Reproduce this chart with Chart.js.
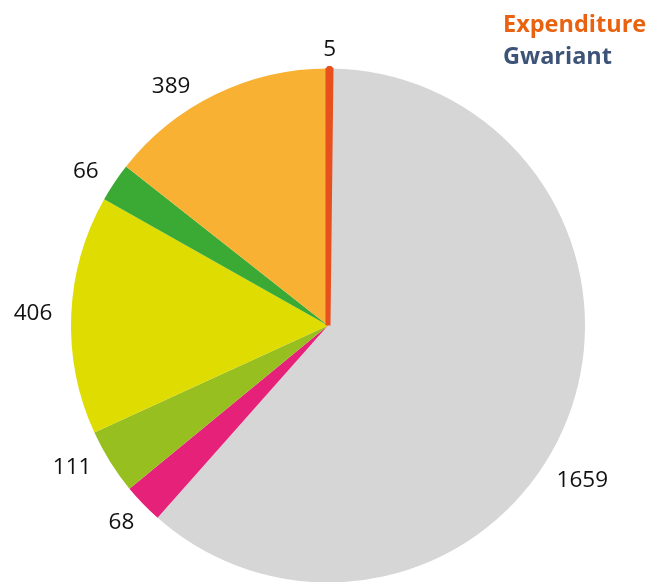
<!DOCTYPE html>
<html>
<head>
<meta charset="utf-8">
<script src="https://cdn.jsdelivr.net/npm/chart.js@4.4.0/dist/chart.umd.min.js"></script>
<style>
  html, body { margin: 0; padding: 0; background: #fff; }
  #wrap { width: 652px; height: 582px; position: relative; }
</style>
</head>
<body>
<div id="wrap"><canvas id="pie"></canvas></div>
<script>
const categories = ["a", "b", "c", "d", "e", "f", "g"];
const values = [5, 1659, 68, 111, 406, 66, 389];
const sliceColors = ["#e8501e", "#d6d6d6", "#e6217a", "#97bf1f", "#dedc00", "#3aaa35", "#f8b133"];
const legendLines = ["Expenditure", "Gwariant"];
const legendColors = ["#e8620f", "#3d5478"];

// small angle nudges (degrees) for the value labels
const labelNudge = [0, 13, -1.5, 1, 0, 0, -4];

const pieCanvas = document.getElementById("pie").getContext("2d");

// value labels outside each slice + the two-line title at top right
const outsideLabels = {
  id: "outsideLabels",
  afterDatasetsDraw(chart) {
    // the tiny first slice is drawn again on top so its outline stays visible
    const arcs = chart.getDatasetMeta(0).data;
    arcs[0].draw(chart.ctx, chart.chartArea);
  },
  afterDraw(chart) {
    const ctx = chart.ctx;
    const arcs = chart.getDatasetMeta(0).data;
    ctx.save();
    ctx.font = "22.5px 'Open Sans'";
    ctx.fillStyle = "#111";
    ctx.textBaseline = "middle";
    arcs.forEach((arc, i) => {
      const mid = (arc.startAngle + arc.endAngle) / 2 + (labelNudge[i] * Math.PI) / 180;
      const r = arc.outerRadius + 19;
      const x = arc.x + Math.cos(mid) * r;
      const y = arc.y + Math.sin(mid) * r;
      const c = Math.cos(mid);
      ctx.textAlign = Math.abs(c) < 0.2 ? "center" : c > 0 ? "left" : "right";
      ctx.fillText(String(values[i]), x, y);
    });

    ctx.font = "bold 23.5px 'Open Sans'";
    ctx.textAlign = "left";
    ctx.textBaseline = "alphabetic";
    legendLines.forEach((txt, i) => {
      ctx.fillStyle = legendColors[i];
      ctx.fillText(txt, 503, 32 + i * 32);
    });
    ctx.restore();
  },
};

const pieConfig = {
  type: "pie",
  data: {
    labels: categories,
    datasets: [
      {
        data: values,
        radius: 257,
        backgroundColor: sliceColors,
        hoverBackgroundColor: sliceColors,
        borderColor: sliceColors,
        borderWidth: [5, 0, 0, 0, 0, 0, 0],
        borderJoinStyle: "bevel",
        hoverOffset: 0,
      },
    ],
  },
  options: {
    responsive: false,
    animation: false,
    layout: { padding: { left: 71, right: 67, top: 69, bottom: 0 } },
    plugins: {
      legend: { display: false },
      tooltip: { enabled: false },
    },
  },
  plugins: [outsideLabels],
};

const c = document.getElementById("pie");
c.width = 652;
c.height = 582;
new Chart(pieCanvas, pieConfig);
</script>
</body>
</html>
